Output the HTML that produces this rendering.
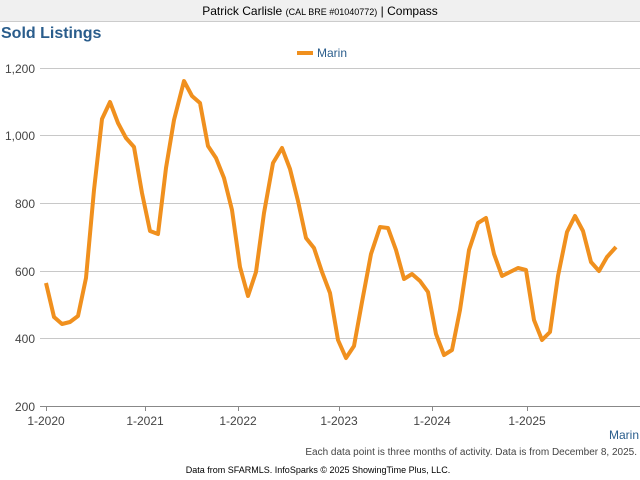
<!DOCTYPE html>
<html><head><style>
body{margin:0;width:640px;height:480px;background:#fff;font-family:"Liberation Sans",sans-serif;overflow:hidden;position:relative}
.hdr{position:absolute;left:0;top:0;width:640px;height:21px;background:#f0f0f0;border-bottom:1px solid #ccc;text-align:center;font-size:12px;line-height:22px;color:#000}
.hdr small{font-size:9px}
.t{position:absolute;left:1px;top:25px;font-size:16px;font-weight:bold;color:#2a5d8c}
</style></head><body>
<div class="hdr">Patrick Carlisle <small>(CAL BRE #01040772)</small> | Compass</div>
<div class="t">Sold Listings</div>
<svg width="640" height="480" style="position:absolute;left:0;top:0" font-family="Liberation Sans, sans-serif">
<g stroke="#c8c8c8" stroke-width="1">
<line x1="40" x2="640" y1="68.5" y2="68.5"/><line x1="40" x2="640" y1="135.5" y2="135.5"/>
<line x1="40" x2="640" y1="203.5" y2="203.5"/><line x1="40" x2="640" y1="271.5" y2="271.5"/>
<line x1="40" x2="640" y1="338.5" y2="338.5"/>
</g>
<line x1="40" x2="640" y1="406.5" y2="406.5" stroke="#888"/>
<g stroke="#888"><line x1="46.5" x2="46.5" y1="406" y2="411"/><line x1="145.5" x2="145.5" y1="406" y2="411"/><line x1="238.5" x2="238.5" y1="406" y2="411"/><line x1="339.5" x2="339.5" y1="406" y2="411"/><line x1="432.5" x2="432.5" y1="406" y2="411"/><line x1="527.5" x2="527.5" y1="406" y2="411"/></g>
<g font-size="12" fill="#444" text-anchor="end">
<text x="35" y="73">1,200</text><text x="35" y="140">1,000</text><text x="35" y="208">800</text><text x="35" y="276">600</text><text x="35" y="343">400</text><text x="35" y="411">200</text>
</g>
<g font-size="12" fill="#444" text-anchor="middle">
<text x="46" y="425">1-2020</text><text x="145" y="425">1-2021</text><text x="238" y="425">1-2022</text><text x="339" y="425">1-2023</text><text x="432" y="425">1-2024</text><text x="527" y="425">1-2025</text>
</g>
<text x="639" y="439" font-size="12" fill="#2a5d8c" text-anchor="end">Marin</text>
<text x="637" y="455" font-size="10" fill="#444" text-anchor="end">Each data point is three months of activity. Data is from December 8, 2025.</text>
<text x="318" y="473" font-size="9" fill="#000" text-anchor="middle">Data from SFARMLS. InfoSparks © 2025 ShowingTime Plus, LLC.</text>
<line x1="297" x2="313" y1="53" y2="53" stroke="#f0901e" stroke-width="4"/>
<text x="317" y="57" font-size="12" fill="#2a5d8c">Marin</text>
<polyline fill="none" stroke="#f0901e" stroke-width="4" stroke-linejoin="round" points="46,283 54,317 62,324 70,322 78,316 86,278 94,190 102,119 110,102 118,123 126,138 134,147 142,193 150,231 158,234 166,168 174,120 184,81 192,96 200,103 208,146 216,158 224,178 232,210 240,267 248,296 256,272 264,213 273,163 282,148 290,169 298,201 306,238 314,248 322,272 330,293 338,340 346,358 354,346 362,302 371,254 380,227 388,228 396,250 404,279 412,274 420,281 428,292 436,334 444,355 452,350 460,310 469,250 478,223 486,218 494,254 502,276 510,272 518,268 526,270 534,320 542,340 550,332 558,276 567,232 575,216 583,231 591,262 599,271 607,257 616,247"/>
</svg>
</body></html>
